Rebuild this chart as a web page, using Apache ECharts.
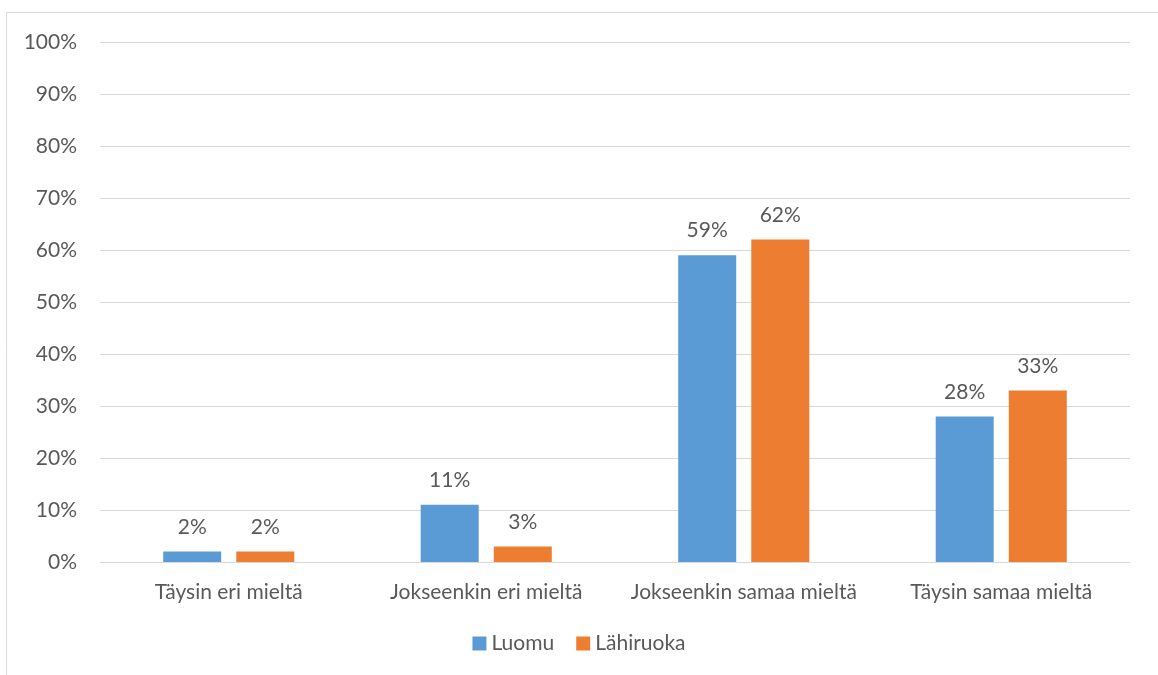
<!DOCTYPE html>
<html>
<head>
<meta charset="utf-8">
<script src="https://cdn.jsdelivr.net/npm/echarts@6/dist/echarts.min.js"></script>
<style>
  html, body { margin: 0; padding: 0; background: #fff; }
  #chart { width: 1158px; height: 675px; }
</style>
</head>
<body>
<div id="chart"></div>
<script>
const categories = ["Täysin eri mieltä", "Jokseenkin eri mieltä", "Jokseenkin samaa mieltä", "Täysin samaa mieltä"];
const luomu = [2, 11, 59, 28];
const lahiruoka = [2, 3, 62, 33];
const seriesNames = ["Luomu", "Lähiruoka"];

const font = "Lato, 'Open Sans', sans-serif";
const textColor = "#595959";

const labelStyle = {
  show: true,
  position: "top",
  distance: 14,
  color: textColor,
  fontFamily: font,
  fontSize: 21,
  formatter: "{c}%",
};

let myChart = echarts.init(document.getElementById("chart"));
let option = {
  animation: false,
  textStyle: { fontFamily: font },
  graphic: [
    {
      type: "rect",
      shape: { x: 6.5, y: 12.5, width: 1200, height: 700 },
      style: { fill: "none", stroke: "#d9d9d9", lineWidth: 1 },
    },
  ],
  grid: {
    left: 100,
    right: 28,
    top: 42,
    bottom: 113,
  },
  legend: {
    bottom: 16,
    left: "center",
    itemWidth: 14,
    itemHeight: 14,
    itemGap: 22,
    icon: "rect",
    textStyle: { color: textColor, fontSize: 21, fontFamily: font },
    data: seriesNames,
  },
  xAxis: {
    type: "category",
    data: categories,
    axisLine: { lineStyle: { color: "#d9d9d9" } },
    axisTick: { show: false },
    axisLabel: {
      color: textColor,
      fontSize: 21,
      fontFamily: font,
      margin: 20,
      interval: 0,
      hideOverlap: false,
    },
  },
  yAxis: {
    type: "value",
    min: 0,
    max: 100,
    interval: 10,
    axisLine: { show: false },
    axisTick: { show: false },
    axisLabel: { color: textColor, fontSize: 21, fontFamily: font, formatter: "{value}%", margin: 23 },
    splitLine: { lineStyle: { color: "#d9d9d9" } },
  },
  series: [
    {
      name: seriesNames[0],
      type: "bar",
      data: luomu,
      color: "#5b9bd5",
      barWidth: 58,
      barGap: "26%",
      label: labelStyle,
    },
    {
      name: seriesNames[1],
      type: "bar",
      data: lahiruoka,
      color: "#ed7d31",
      barWidth: 58,
      barGap: "26%",
      label: labelStyle,
    },
  ],
};
myChart.setOption(option, true);
window.onresize = myChart.resize;
</script>
</body>
</html>
